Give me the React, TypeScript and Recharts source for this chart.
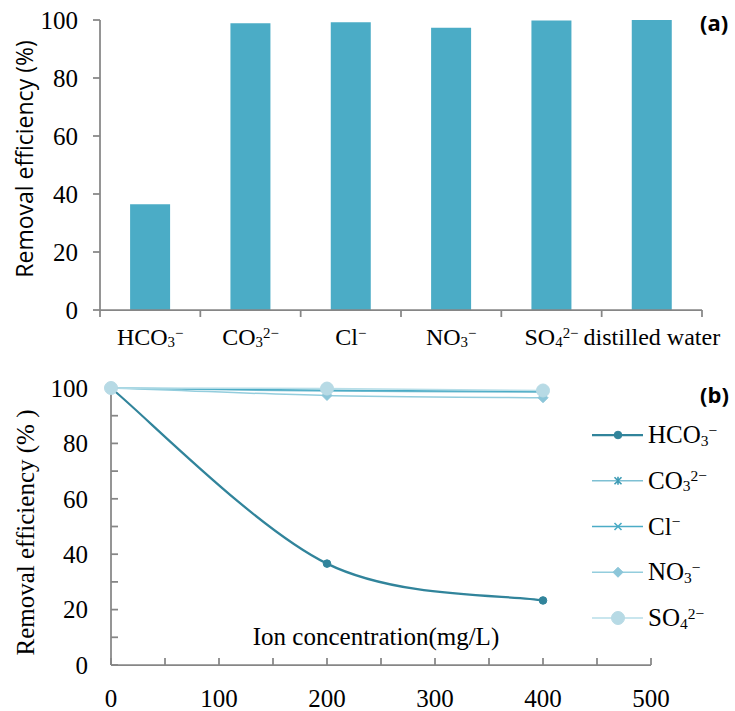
import React from 'react';
import { Bar, BarChart, Legend, Line, LineChart, XAxis, YAxis } from 'recharts';

// (a) removal efficiency with each ion present (200 mg/L)
const ions = ['HCO₃⁻', 'CO₃²⁻', 'Cl⁻', 'NO₃⁻', 'SO₄²⁻', 'distilled water'];
const removalByIon = [36.5, 98.9, 99.2, 97.3, 99.8, 100];

// (b) removal efficiency vs ion concentration
const concentrations = [0, 200, 400];
const hco3 = [100, 36.6, 23.3];
const co3 = [100, 98.9, 98.5];
const cl = [100, 99.2, 98.8];
const no3 = [100, 97.3, 96.5];
const so4 = [100, 99.8, 99.1];

const pctTicks = [0, 20, 40, 60, 80, 100];
const pctMinorTicks = [0, 10, 20, 30, 40, 50, 60, 70, 80, 90, 100];
const concTicks = [0, 50, 100, 150, 200, 250, 300, 350, 400, 450, 500];

const barData = ions.map((ion, i) => ({ ion, removal: removalByIon[i] }));
const lineData = concentrations.map((conc, i) => ({
  conc,
  hco3: hco3[i],
  co3: co3[i],
  cl: cl[i],
  no3: no3[i],
  so4: so4[i],
}));

const SERIF = '"Liberation Serif", "Times New Roman", serif';
const SANS = '"Open Sans", "Noto Sans", sans-serif';
const AXIS = '#868686';
const BAR = '#4BACC6';

type Shape = 'circle' | 'star' | 'x' | 'diamond';
const series: { key: string; name: string; color: string; mark: string; width: number; shape: Shape; size: number }[] = [
  { key: 'hco3', name: 'HCO₃⁻', color: '#31849B', mark: '#31849B', width: 2.25, shape: 'circle', size: 3.8 },
  { key: 'co3', name: 'CO₃²⁻', color: '#7EC0D3', mark: '#3E9BB5', width: 1.5, shape: 'star', size: 3.5 },
  { key: 'cl', name: 'Cl⁻', color: '#4BACC6', mark: '#4BACC6', width: 1.5, shape: 'x', size: 3.5 },
  { key: 'no3', name: 'NO₃⁻', color: '#93CDDD', mark: '#8CC6D9', width: 1.5, shape: 'diamond', size: 5 },
  { key: 'so4', name: 'SO₄²⁻', color: '#B7DEE8', mark: '#B7DAE5', width: 1.5, shape: 'circle', size: 6.5 },
];

// Excel style smoothed line (cardinal spline, endpoints repeated)
function excelSmooth(context: any) {
  let pts: [number, number][] = [];
  return {
    areaStart() {},
    areaEnd() {},
    lineStart() {
      pts = [];
    },
    point(x: number, y: number) {
      pts.push([+x, +y]);
    },
    lineEnd() {
      const n = pts.length;
      if (!n) return;
      context.moveTo(pts[0][0], pts[0][1]);
      for (let i = 0; i < n - 1; i++) {
        const p0 = pts[Math.max(i - 1, 0)];
        const p1 = pts[i];
        const p2 = pts[i + 1];
        const p3 = pts[Math.min(i + 2, n - 1)];
        context.bezierCurveTo(
          p1[0] + (p2[0] - p0[0]) / 6,
          p1[1] + (p2[1] - p0[1]) / 6,
          p2[0] - (p3[0] - p1[0]) / 6,
          p2[1] - (p3[1] - p1[1]) / 6,
          p2[0],
          p2[1],
        );
      }
    },
  };
}

const SUBS = '₀₁₂₃₄₅₆₇₈₉';
const SUPS: Record<string, string> = {
  '⁰': '0', '¹': '1', '²': '2', '³': '3', '⁴': '4', '⁵': '5', '⁶': '6', '⁷': '7', '⁸': '8', '⁹': '9', '⁻': '−', '⁺': '+',
};

function chemSpans(label: string, size: number) {
  const runs: { kind: 'n' | 'sub' | 'sup'; text: string }[] = [];
  for (const ch of label) {
    const s = SUBS.indexOf(ch);
    const kind = s >= 0 ? 'sub' : SUPS[ch] ? 'sup' : 'n';
    const t = s >= 0 ? String(s) : SUPS[ch] ?? ch;
    const last = runs[runs.length - 1];
    if (last && last.kind === kind) last.text += t;
    else runs.push({ kind, text: t });
  }
  let shift = 0;
  return runs.map((r, k) => {
    const target = r.kind === 'sub' ? size * 0.1 : r.kind === 'sup' ? -size * 0.3 : 0;
    const dy = target - shift;
    shift = target;
    return (
      <tspan key={k} dy={dy || undefined} fontSize={r.kind === 'n' ? size : size * 0.62}>
        {r.text}
      </tspan>
    );
  });
}

function Marker({ shape, cx, cy, size, color }: { shape: Shape; cx?: number; cy?: number; size: number; color: string }) {
  if (cx == null || cy == null) return null;
  if (shape === 'circle') return <circle cx={cx} cy={cy} r={size} fill={color} stroke={color} strokeWidth={1} />;
  if (shape === 'diamond')
    return (
      <polygon
        points={`${cx},${cy - size} ${cx + size},${cy} ${cx},${cy + size} ${cx - size},${cy}`}
        fill={color}
        stroke={color}
      />
    );
  const d = size;
  let path = `M${cx - d},${cy - d}L${cx + d},${cy + d}M${cx - d},${cy + d}L${cx + d},${cy - d}`;
  if (shape === 'star') path += `M${cx},${cy - d - 0.5}L${cx},${cy + d + 0.5}`;
  return <path d={path} stroke={color} strokeWidth={1.6} fill="none" />;
}

function IonTick(props: any) {
  const { x, y, payload, index } = props;
  const half = payload.offset || 50;
  const last = index === ions.length - 1;
  return (
    <g>
      <line x1={x - half} x2={x - half} y1={y} y2={y + 7} stroke={AXIS} strokeWidth={1.75} />
      {last && <line x1={x + half} x2={x + half} y1={y} y2={y + 7} stroke={AXIS} strokeWidth={1.75} />}
      <text x={x} y={y + 35} textAnchor="middle" fontFamily={SERIF} fontSize={24} fill="#000">
        {chemSpans(String(payload.value), 24)}
      </text>
    </g>
  );
}

function SansYLabel(props: any) {
  const { x, y, height } = props.viewBox;
  const cx = x + 24;
  const cy = y + height / 2 - 6;
  return (
    <text x={cx} y={cy} transform={`rotate(-90, ${cx}, ${cy})`} textAnchor="middle" dominantBaseline="central" fontFamily={SANS} fontSize={23} fill="#000">
      Removal efficiency (%)
    </text>
  );
}

function SerifYLabel(props: any) {
  const { x, y, height } = props.viewBox;
  const cx = x + 25;
  const cy = y + height / 2 + 6;
  return (
    <text x={cx} y={cy} transform={`rotate(-90, ${cx}, ${cy})`} textAnchor="middle" dominantBaseline="central" fontFamily={SERIF} fontSize={25} fill="#000">
      Removal efficiency (% )
    </text>
  );
}

function ConcLabel(props: any) {
  const { x, y, width } = props.viewBox;
  return (
    <text x={x + width / 2 - 5} y={y - 20} textAnchor="middle" fontFamily={SERIF} fontSize={25} fill="#000">
      Ion concentration(mg/L)
    </text>
  );
}

function IonLegend(props: any) {
  const payload: any[] = props.payload || [];
  const shown = series.filter((s) => payload.length === 0 || payload.some((p) => p.dataKey === s.key));
  return (
    <svg width={155} height={230} style={{ display: 'block' }}>
      {shown.map((s, i) => {
        const y = 25 + i * 45.75;
        return (
          <g key={s.key}>
            <line x1={12} x2={63} y1={y} y2={y} stroke={s.color} strokeWidth={s.width} />
            <Marker shape={s.shape} cx={38} cy={y} size={s.size} color={s.mark} />
            <text x={68} y={y + 8} fontFamily={SERIF} fontSize={25} fill="#000">
              {chemSpans(s.name, 25)}
            </text>
          </g>
        );
      })}
    </svg>
  );
}

const panelLabel: React.CSSProperties = {
  position: 'absolute',
  left: 700,
  fontFamily: SANS,
  fontWeight: 700,
  fontSize: 22,
  lineHeight: '26px',
  color: '#000',
};

export default function App() {
  return (
    <div style={{ position: 'absolute', left: 0, top: 0, width: 735, height: 711, background: '#fff' }}>
      <div style={{ position: 'absolute', left: 0, top: 0 }}>
        <BarChart width={735} height={350} data={barData} margin={{ top: 20, right: 33, bottom: 0, left: 0 }} barCategoryGap="30%">
          <XAxis
            dataKey="ion"
            height={40}
            interval={0}
            tickSize={0}
            tickMargin={0}
            tickLine={false}
            axisLine={{ stroke: AXIS, strokeWidth: 1.75 }}
            tick={IonTick}
          />
          <YAxis
            width={100}
            type="number"
            domain={[0, 100]}
            ticks={pctTicks}
            interval={0}
            tickSize={7}
            tickMargin={15}
            axisLine={{ stroke: AXIS, strokeWidth: 1.75 }}
            tickLine={{ stroke: AXIS, strokeWidth: 1.75 }}
            tick={{ fill: '#000', fontSize: 25, fontFamily: SERIF }}
            label={{ content: SansYLabel }}
          />
          <Bar dataKey="removal" fill={BAR} isAnimationActive={false} />
        </BarChart>
      </div>
      <div style={{ position: 'absolute', left: 0, top: 350 }}>
        <LineChart width={735} height={361} data={lineData} margin={{ top: 38, right: 84, bottom: 0, left: 0 }}>
          <XAxis
            dataKey="conc"
            type="number"
            domain={[0, 500]}
            ticks={concTicks}
            interval={0}
            height={46}
            tickSize={-7}
            tickMargin={31}
            tickFormatter={(v: number) => (v % 100 === 0 ? String(v) : '')}
            axisLine={{ stroke: AXIS, strokeWidth: 1.75 }}
            tickLine={{ stroke: AXIS, strokeWidth: 1.75 }}
            tick={{ fill: '#000', fontSize: 25, fontFamily: SERIF }}
            label={{ content: ConcLabel }}
          />
          <YAxis
            width={111}
            type="number"
            domain={[0, 100]}
            ticks={pctMinorTicks}
            interval={0}
            tickSize={-7}
            tickMargin={30}
            tickFormatter={(v: number) => (v % 20 === 0 ? String(v) : '')}
            axisLine={{ stroke: AXIS, strokeWidth: 1.75 }}
            tickLine={{ stroke: AXIS, strokeWidth: 1.75 }}
            tick={{ fill: '#000', fontSize: 25, fontFamily: SERIF }}
            label={{ content: SerifYLabel }}
          />
          <Legend
            layout="vertical"
            align="center"
            verticalAlign="middle"
            wrapperStyle={{ left: 580, top: 60, width: 155 }}
            content={IonLegend}
          />
          {series.map((s) => (
            <Line
              key={s.key}
              dataKey={s.key}
              name={s.name}
              type={excelSmooth as any}
              stroke={s.color}
              strokeWidth={s.width}
              dot={(p: any) => <Marker key={`${s.key}-${p.index}`} shape={s.shape} cx={p.cx} cy={p.cy} size={s.size} color={s.mark} />}
              activeDot={false}
              isAnimationActive={false}
            />
          ))}
        </LineChart>
      </div>
      <div style={{ ...panelLabel, top: 9 }}>(a)</div>
      <div style={{ ...panelLabel, top: 381 }}>(b)</div>
    </div>
  );
}
